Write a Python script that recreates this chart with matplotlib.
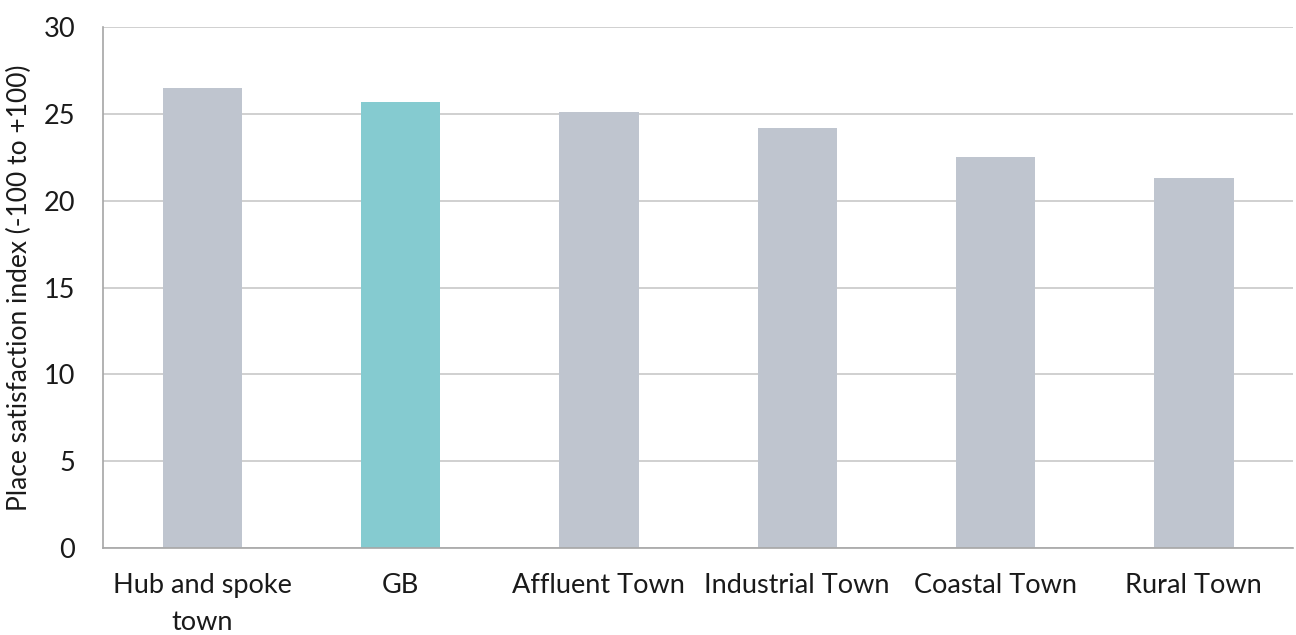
import matplotlib.pyplot as plt

categories = ['Hub and spoke\ntown', 'GB', 'Affluent Town', 'Industrial Town',
              'Coastal Town', 'Rural Town']
values = [26.5, 25.7, 25.1, 24.2, 22.5, 21.3]
colors = ['#bfc5cf', '#85cbd0', '#bfc5cf', '#bfc5cf', '#bfc5cf', '#bfc5cf']

plt.rcParams['font.family'] = ['Lato', 'DejaVu Sans']

fig = plt.figure(figsize=(12.96, 6.35), dpi=100)
ax = fig.add_axes([103 / 1296, 1 - 548 / 635, 1190 / 1296, 521 / 635])

ax.bar(range(len(categories)), values, width=0.4, color=colors, zorder=2)

ax.set_xlim(-0.5, len(categories) - 0.5)
ax.set_ylim(0, 30)
ax.set_yticks(range(0, 31, 5))
ax.set_xticks(range(len(categories)))
ax.set_xticklabels(categories, fontsize=19.5, color='#1a1a1a', linespacing=1.6)
ax.tick_params(axis='both', length=0, labelsize=19.5, colors='#1a1a1a')
ax.tick_params(axis='x', pad=18)
ax.tick_params(axis='y', pad=20)
ax.grid(axis='y', color='#c8c8c8', linewidth=1.2, zorder=0)

for side in ['top', 'right']:
    ax.spines[side].set_visible(False)
for side in ['left', 'bottom']:
    ax.spines[side].set_color('#a6a6a6')
    ax.spines[side].set_linewidth(1.2)

ax.set_ylabel('Place satisfaction index (-100 to +100)', fontsize=19,
              color='#1a1a1a', labelpad=8)

fig.savefig('out.png', dpi=100)
